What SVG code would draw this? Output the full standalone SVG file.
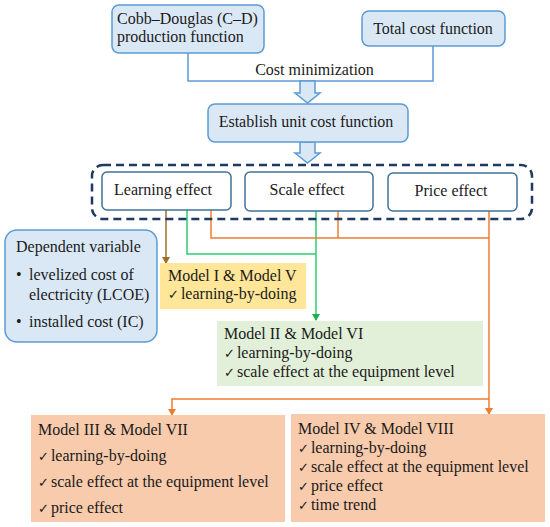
<svg xmlns="http://www.w3.org/2000/svg" width="550" height="527" viewBox="0 0 550 527" font-family="'Liberation Serif', 'Times New Roman', serif">
<defs>
<style>
text{font-family:"Liberation Serif","Times New Roman",serif;font-size:16px;fill:#1a1a1a}
.c{text-anchor:middle}
.blue{fill:#dae8f6;stroke:#5b9bd5;stroke-width:1.5}
.eff{fill:#fff;stroke:#41719c;stroke-width:1.5}
.ln{fill:none;stroke-width:1.5}
.chk{font-family:"DejaVu Sans",sans-serif;font-size:13px}
.t{}
</style>
<marker id="ao" markerWidth="8" markerHeight="8" refX="4" refY="6" markerUnits="userSpaceOnUse" viewBox="0 0 8 8"><path d="M0,0 L8,0 L4,7 z" fill="#ed7d31"/></marker>
<marker id="ag" markerWidth="8" markerHeight="8" refX="4" refY="6" markerUnits="userSpaceOnUse" viewBox="0 0 8 8"><path d="M0,0 L8,0 L4,7 z" fill="#1fb050"/></marker>
<marker id="ab" markerWidth="8" markerHeight="8" refX="4" refY="6" markerUnits="userSpaceOnUse" viewBox="0 0 8 8"><path d="M0,0 L8,0 L4,7 z" fill="#9c6f28"/></marker>
</defs>
<rect width="550" height="527" fill="#fff"/>

<g id="connectors">
<path class="ln" d="M188,53 V81 H433 V46" stroke="#5b9bd5"/>
<path d="M300,81 H315 V93 H320 L307.5,103 L295,93 H300 Z" class="blue"/>
<path d="M300,142 H315 V153 H320 L307.5,163 L295,153 H300 Z" class="blue"/>
<path class="ln" d="M166,210 V263" stroke="#9c6f28" marker-end="url(#ab)"/>
<path class="ln" d="M187,210 V254 H316" stroke="#2ecc71"/>
<path class="ln" d="M316,211 V320" stroke="#2ecc71" marker-end="url(#ag)"/>
<path class="ln" d="M211,210 V238 H489" stroke="#ed7d31"/>
<path class="ln" d="M338,211 V238" stroke="#ed7d31"/>
<path class="ln" d="M489,211 V414" stroke="#ed7d31" marker-end="url(#ao)"/>
<path class="ln" d="M489,399 H172 V415" stroke="#ed7d31" marker-end="url(#ao)"/>
</g>

<g id="cd">
<rect x="112" y="5" width="152" height="48" rx="7" class="blue"/>
<text x="117" y="24">Cobb–Douglas (C–D)</text>
<text x="117" y="42">production function</text>
</g>
<g id="tc">
<rect x="362" y="11" width="143" height="35" rx="7" class="blue"/>
<text x="433" y="34" class="c">Total cost function</text>
</g>
<text x="314.5" y="75" class="c">Cost minimization</text>
<g id="unit">
<rect x="208" y="104" width="200" height="38" rx="7" class="blue"/>
<text x="306" y="127" class="c">Establish unit cost function</text>
</g>

<g id="effects">
<rect x="92" y="165" width="440" height="54" rx="11" fill="none" stroke="#1f3864" stroke-width="2.5" stroke-dasharray="8 5"/>
</g>
<g id="learning">
<rect x="102" y="172" width="129" height="38" rx="5" class="eff"/>
<text x="163" y="195" class="c">Learning effect</text>
</g>
<g id="scale">
<rect x="245" y="172" width="128" height="39" rx="5" class="eff"/>
<text x="307" y="195" class="c">Scale effect</text>
</g>
<g id="price">
<rect x="388" y="173" width="129" height="38" rx="5" class="eff"/>
<text x="451" y="196" class="c">Price effect</text>
</g>

<g id="depvar">
<rect x="5" y="230" width="152" height="112" rx="12" class="blue"/>
<text x="16" y="252">Dependent variable</text>
<text x="16" y="280">•</text>
<text x="29" y="280">levelized cost of</text>
<text x="29" y="300">electricity (LCOE)</text>
<text x="16" y="327">•</text>
<text x="29" y="327">installed cost (IC)</text>
</g>

<g id="m1">
<rect x="160" y="263" width="146" height="46" fill="#ffe699"/>
<text x="168" y="281">Model I &amp; Model V</text>
<text x="168" y="299"><tspan class="chk">✓</tspan><tspan dx="2">learning-by-doing</tspan></text>
</g>

<g id="m2">
<rect x="217" y="321" width="266" height="65" fill="#e2f0d9"/>
<text x="224" y="339">Model II &amp; Model VI</text>
<text x="224" y="358"><tspan class="chk">✓</tspan><tspan dx="2">learning-by-doing</tspan></text>
<text x="224" y="377"><tspan class="chk">✓</tspan><tspan dx="2">scale effect at the equipment level</tspan></text>
</g>

<g id="m3">
<rect x="31" y="415" width="254" height="107" fill="#f8cbad"/>
<text x="38" y="435">Model III &amp; Model VII</text>
<text x="38" y="461"><tspan class="chk">✓</tspan><tspan dx="2">learning-by-doing</tspan></text>
<text x="38" y="487"><tspan class="chk">✓</tspan><tspan dx="2">scale effect at the equipment level</tspan></text>
<text x="38" y="513"><tspan class="chk">✓</tspan><tspan dx="2">price effect</tspan></text>
</g>

<g id="m4">
<rect x="291" y="414" width="254" height="108" fill="#f8cbad"/>
<text x="298" y="434">Model IV &amp; Model VIII</text>
<text x="298" y="453"><tspan class="chk">✓</tspan><tspan dx="2">learning-by-doing</tspan></text>
<text x="298" y="472"><tspan class="chk">✓</tspan><tspan dx="2">scale effect at the equipment level</tspan></text>
<text x="298" y="491"><tspan class="chk">✓</tspan><tspan dx="2">price effect</tspan></text>
<text x="298" y="510"><tspan class="chk">✓</tspan><tspan dx="2">time trend</tspan></text>
</g>
</svg>
